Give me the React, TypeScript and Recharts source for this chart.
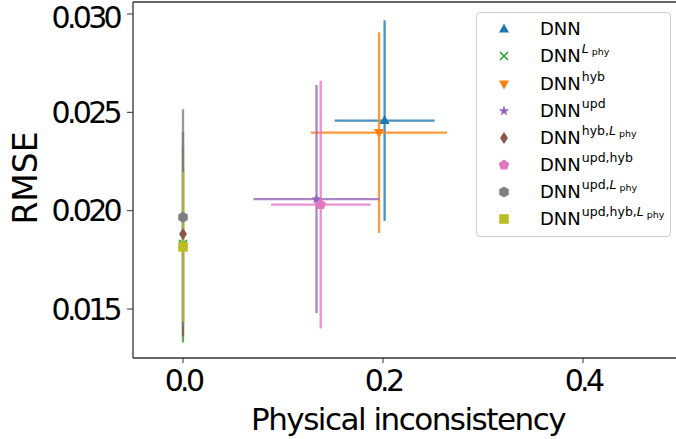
import React from 'react';
import {
  ScatterChart, Scatter, XAxis, YAxis, ErrorBar, ReferenceLine, Label,
} from 'recharts';

// ---------- data ----------
const SERIES_KEYS = ['dnn', 'dnnL', 'hyb', 'upd', 'hybL', 'updHyb', 'updL', 'updHybL'];
const X_VALUES = [0.2016, 0, 0.196, 0.1335, 0, 0.1377, 0, 0];
const Y_VALUES = [0.02458, 0.0183, 0.02397, 0.02059, 0.01881, 0.02031, 0.01966, 0.01816];
const X_ERRORS = [0.05, 0, 0.068, 0.063, 0, 0.0497, 0, 0];
const Y_ERRORS = [0.0051, 0.005, 0.0051, 0.0058, 0.0052, 0.0063, 0.0055, 0.0038];
const LEGEND_SUPERS = ['', 'L', 'hyb', 'upd', 'hyb,L', 'upd,hyb', 'upd,L', 'upd,hyb,L'];
const X_TICKS = [0, 0.2, 0.4];
const Y_TICKS = [0.015, 0.02, 0.025, 0.03];
const X_DOMAIN: [number, number] = [-0.05, 0.5];
const Y_DOMAIN: [number, number] = [0.01251, 0.03061];

// ---------- styles ----------
const COLORS = ['#1f77b4', '#2ca02c', '#ff7f0e', '#9467bd', '#8c564b', '#e377c2', '#7f7f7f', '#bcbd22'];
const SHAPES = ['triUp', 'x', 'triDown', 'star', 'diamond', 'pentagon', 'hexagon', 'square'];
const FONT = "'DejaVu Sans', sans-serif";

function poly(n: number, r: number, rot = -Math.PI / 2) {
  const pts: string[] = [];
  for (let i = 0; i < n; i++) {
    const a = rot + (i * 2 * Math.PI) / n;
    pts.push(`${(r * Math.cos(a)).toFixed(2)},${(r * Math.sin(a)).toFixed(2)}`);
  }
  return 'M' + pts.join('L') + 'Z';
}
function starPath(ro: number, ri: number) {
  const pts: string[] = [];
  for (let i = 0; i < 10; i++) {
    const r = i % 2 === 0 ? ro : ri;
    const a = -Math.PI / 2 + (i * Math.PI) / 5;
    pts.push(`${(r * Math.cos(a)).toFixed(2)},${(r * Math.sin(a)).toFixed(2)}`);
  }
  return 'M' + pts.join('L') + 'Z';
}

function Marker({ kind, color, cx, cy }: { kind: string; color: string; cx: number; cy: number }) {
  const t = `translate(${cx},${cy})`;
  switch (kind) {
    case 'triUp':
      return <path transform={t} d="M0,-5.5L5,3.5L-5,3.5Z" fill={color} />;
    case 'triDown':
      return <path transform={t} d="M0,5.5L5,-3.5L-5,-3.5Z" fill={color} />;
    case 'x':
      return <path transform={t} d="M-4,-4L4,4M-4,4L4,-4" stroke={color} strokeWidth={1.6} fill="none" />;
    case 'star':
      return <path transform={t} d={starPath(5.5, 2.3)} fill={color} />;
    case 'diamond':
      return <path transform={t} d="M0,-6L4,0L0,6L-4,0Z" fill={color} />;
    case 'pentagon':
      return <path transform={t} d={poly(5, 5.5)} fill={color} />;
    case 'hexagon':
      return <path transform={t} d={poly(6, 5.5)} fill={color} />;
    case 'square':
    default:
      return <path transform={t} d="M-4.8,-4.8h9.6v9.6h-9.6Z" fill={color} />;
  }
}

const seriesData = SERIES_KEYS.map((k, i) => ({
  key: k,
  color: COLORS[i],
  shape: SHAPES[i],
  points: [{ x: X_VALUES[i], y: Y_VALUES[i], ex: X_ERRORS[i], ey: Y_ERRORS[i] }],
}));

function Sup({ text }: { text: string }) {
  if (!text) return null;
  const parts = text.split(',');
  return (
    <span style={{ fontSize: 12.5, position: 'relative', top: -9, marginLeft: 1 }}>
      {parts.map((p, j) => (
        <React.Fragment key={j}>
          {j > 0 ? ',' : ''}
          {p === 'L' ? (
            <>
              <i>L</i>
              <span style={{ fontSize: 9.5, position: 'relative', top: 2, marginLeft: 3 }}>phy</span>
            </>
          ) : (
            p
          )}
        </React.Fragment>
      ))}
    </span>
  );
}

function LegendBox() {
  return (
    <div
      style={{
        position: 'absolute', left: 476, top: 12, width: 195, height: 225,
        border: '1px solid #d0d0d0', borderRadius: 4, background: 'rgba(255,255,255,0.85)',
        boxSizing: 'border-box', fontFamily: FONT, fontSize: 18, color: '#000',
      }}
    >
      {seriesData.map((s, i) => (
        <div
          key={s.key}
          style={{ position: 'absolute', left: 0, top: 4.3 + i * 27.15, height: 24, display: 'flex', alignItems: 'center', whiteSpace: 'nowrap' }}
        >
          <svg width={20} height={20} style={{ position: 'absolute', left: 17, top: 2 }}>
            <Marker kind={s.shape} color={s.color} cx={10} cy={10} />
          </svg>
          <span style={{ position: 'absolute', left: 63, top: 1, lineHeight: '22px' }}>
            DNN<Sup text={LEGEND_SUPERS[i]} />
          </span>
        </div>
      ))}
    </div>
  );
}

const tickStyle = { fontSize: 30, fill: '#000', fontFamily: FONT, letterSpacing: -3.7 };

export default function App() {
  return (
    <div style={{ position: 'fixed', left: 0, top: 0, width: 676, height: 439, overflow: 'hidden', background: '#fff' }}>
      <ScatterChart width={690} height={439} margin={{ top: 2, right: 7, bottom: 0, left: 0 }}>
        <XAxis
          type="number"
          dataKey="x"
          domain={X_DOMAIN}
          allowDataOverflow
          ticks={X_TICKS}
          tickFormatter={(v: number) => v.toFixed(1)}
          height={81}
          tickSize={5}
          tickMargin={7}
          stroke="#333"
          axisLine={{ stroke: '#333', strokeWidth: 1.3 }}
          tickLine={{ stroke: '#333', strokeWidth: 1 }}
          tick={tickStyle}
        >
          <Label
            content={(p: any) => {
              const vb = p.viewBox || { x: 133, y: 358, width: 550, height: 81 };
              return (
                <text x={vb.x + vb.width / 2} y={vb.y + vb.height - 9} textAnchor="middle"
                  fontSize={31} fontFamily={FONT} letterSpacing={-1.5} fill="#000">
                  Physical inconsistency
                </text>
              );
            }}
          />
        </XAxis>
        <YAxis
          type="number"
          dataKey="y"
          domain={Y_DOMAIN}
          allowDataOverflow
          ticks={Y_TICKS}
          tickFormatter={(v: number) => v.toFixed(3)}
          width={133}
          tickSize={6}
          tickMargin={8}
          stroke="#333"
          axisLine={{ stroke: '#333', strokeWidth: 1.3 }}
          tickLine={{ stroke: '#333', strokeWidth: 1 }}
          tick={tickStyle}
        >
          <Label
            content={(p: any) => {
              const vb = p.viewBox || { x: 0, y: 2, width: 133, height: 356 };
              const x = vb.x + 37;
              const y = vb.y + vb.height / 2 - 2;
              return (
                <text x={x} y={y} textAnchor="middle" transform={`rotate(-90, ${x}, ${y})`}
                  fontSize={33} fontFamily={FONT} fill="#000">
                  RMSE
                </text>
              );
            }}
          />
        </YAxis>
        <ReferenceLine y={Y_DOMAIN[1]} stroke="#333" strokeWidth={1.3} ifOverflow="visible" />
        {seriesData.map((s) => (
          <Scatter
            key={s.key}
            data={s.points}
            isAnimationActive={false}
            shape={(props: any) => <Marker kind={s.shape} color={s.color} cx={props.cx} cy={props.cy} />}
          >
            {s.points[0].ex > 0 && (
              <ErrorBar dataKey="ex" direction="x" width={0} stroke={s.color} strokeWidth={2.3} strokeOpacity={0.8} />
            )}
            <ErrorBar dataKey="ey" direction="y" width={0} stroke={s.color} strokeWidth={2.3} strokeOpacity={0.8} />
          </Scatter>
        ))}
      </ScatterChart>
      <LegendBox />
    </div>
  );
}
